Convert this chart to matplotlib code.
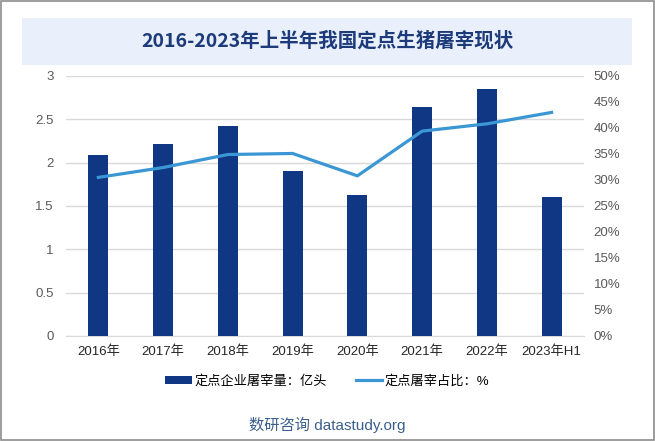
import matplotlib
matplotlib.use('Agg')
import matplotlib.pyplot as plt
from matplotlib.patches import Rectangle

plt.rcParams['font.family'] = ['Liberation Sans', 'Noto Sans CJK SC', 'DejaVu Sans']

# data
years = ['2016年', '2017年', '2018年', '2019年', '2020年', '2021年', '2022年', '2023年H1']
slaughter = [2.09, 2.215, 2.42, 1.90, 1.63, 2.64, 2.85, 1.60]   # 亿头
share = [30.5, 32.4, 34.9, 35.1, 30.8, 39.4, 40.8, 43.0]         # %
left_ticks = [0, 0.5, 1, 1.5, 2, 2.5, 3]
left_labels = ['0', '0.5', '1', '1.5', '2', '2.5', '3']
right_ticks = [0, 5, 10, 15, 20, 25, 30, 35, 40, 45, 50]

bar_color = '#0f3784'
line_color = '#3a97d4'
tick_color = '#595959'

fig = plt.figure(figsize=(6.55, 4.41), dpi=100)
fig.patch.set_facecolor('white')

# outer frame
fig.add_artist(Rectangle((0.001, 0.002), 0.997, 0.995, transform=fig.transFigure,
                         fill=False, edgecolor='#8c8c8c', linewidth=1.2))
# title band
fig.add_artist(Rectangle((22 / 655, 1 - 65 / 441), 610 / 655, 47 / 441, transform=fig.transFigure,
                         facecolor='#e9f0fb', edgecolor='none'))
fig.text(0.5, 1 - 41 / 441, '2016-2023年上半年我国定点生猪屠宰现状', ha='center', va='center',
         fontsize=14, fontweight='bold', color='#1d3b7a',
         family=['Noto Sans CJK SC', 'DejaVu Sans'])

ax = fig.add_axes([66 / 655, 1 - 336 / 441, 518 / 655, 260 / 441])
x = range(len(years))
ax.bar(x, slaughter, width=0.31, color=bar_color, zorder=3, label='定点企业屠宰量：亿头')
ax.set_xlim(-0.5, len(years) - 0.5)
ax.set_ylim(0, 3)
ax.set_yticks(left_ticks)
ax.set_yticklabels(left_labels)
ax.set_xticks(list(x))
ax.set_xticklabels(years)
ax.grid(axis='y', color='#d9d9d9', linewidth=1, zorder=0)
for s in ['top', 'right', 'left']:
    ax.spines[s].set_visible(False)
ax.spines['bottom'].set_color('#d9d9d9')
ax.tick_params(axis='both', length=0, labelsize=9.5)
ax.tick_params(axis='y', colors=tick_color, pad=9)
ax.tick_params(axis='x', labelcolor='#262626', pad=7)

ax2 = ax.twinx()
ax2.plot(list(x), share, color=line_color, linewidth=2.3, zorder=4, label='定点屠宰占比：%')
ax2.set_ylim(0, 50)
ax2.set_yticks(right_ticks)
ax2.set_yticklabels([f'{t}%' for t in right_ticks])
for s in ax2.spines.values():
    s.set_visible(False)
ax2.tick_params(axis='y', length=0, labelsize=9.5, colors=tick_color, pad=7)

h1, l1 = ax.get_legend_handles_labels()
h2, l2 = ax2.get_legend_handles_labels()
fig.legend(h1 + h2, l1 + l2, loc='center', bbox_to_anchor=(0.5, 1 - 381 / 441), ncol=2,
           frameon=False, fontsize=9.5, handlelength=2.0, handleheight=0.6,
           columnspacing=2.2, handletextpad=0.2)

fig.text(0.5, 1 - 425 / 441, '数研咨询 datastudy.org', ha='center', va='center',
         fontsize=11, color='#3b5f8c')

fig.savefig('out.png', dpi=100)
